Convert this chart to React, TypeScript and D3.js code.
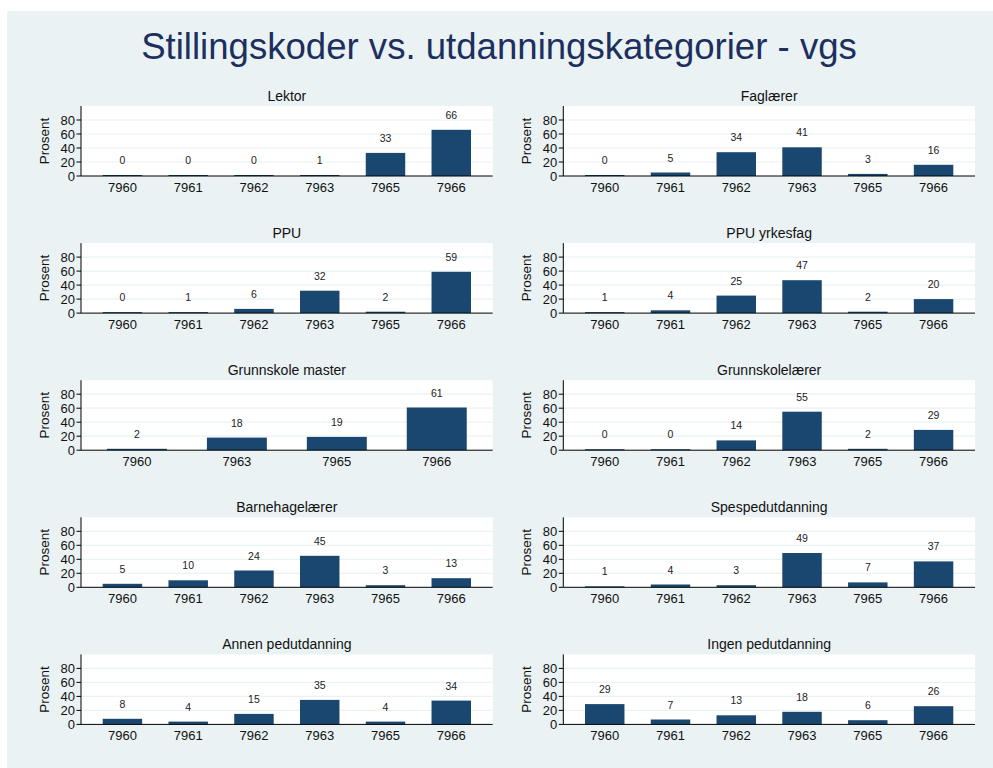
import React from 'react';
import * as d3 from 'd3';

const panelTitles = [
  'Lektor', 'Faglærer', 'PPU', 'PPU yrkesfag', 'Grunnskole master',
  'Grunnskolelærer', 'Barnehagelærer', 'Spespedutdanning', 'Annen pedutdanning', 'Ingen pedutdanning',
];

const codesAll = ['7960', '7961', '7962', '7963', '7965', '7966'];
const codesMaster = ['7960', '7963', '7965', '7966'];

const lektor = [0, 0, 0, 1, 33, 66];
const faglaerer = [0, 5, 34, 41, 3, 16];
const ppu = [0, 1, 6, 32, 2, 59];
const ppuYrkesfag = [1, 4, 25, 47, 2, 20];
const grunnskoleMaster = [2, 18, 19, 61];
const grunnskolelaerer = [0, 0, 14, 55, 2, 29];
const barnehagelaerer = [5, 10, 24, 45, 3, 13];
const spesped = [1, 4, 3, 49, 7, 37];
const annenPed = [8, 4, 15, 35, 4, 34];
const ingenPed = [29, 7, 13, 18, 6, 26];

const yTicks = [0, 20, 40, 60, 80];

const panels = [
  { codes: codesAll, values: lektor },
  { codes: codesAll, values: faglaerer },
  { codes: codesAll, values: ppu },
  { codes: codesAll, values: ppuYrkesfag },
  { codes: codesMaster, values: grunnskoleMaster },
  { codes: codesAll, values: grunnskolelaerer },
  { codes: codesAll, values: barnehagelaerer },
  { codes: codesAll, values: spesped },
  { codes: codesAll, values: annenPed },
  { codes: codesAll, values: ingenPed },
];

const W = 993;
const H = 768;
const BG = '#eaf2f3';
const BAR = '#1a476f';
const FONT = '"Liberation Sans", Arial, Helvetica, sans-serif';

const colLeft = [81, 563.3];
const plotW = 411.7;
const plotH = 70;
const rowTop = (i) => 106 + 137.1 * i;

const Panel = ({ title, codes, values, x0, y0 }) => {
  const x = d3.scaleBand()
    .domain(codes)
    .range([x0, x0 + plotW])
    .paddingInner(0.4)
    .paddingOuter(codes.length > 4 ? 0.33 : 0.26);
  const y = d3.scaleLinear().domain([0, 100]).range([y0 + plotH, y0]);
  const base = y(0);
  return (
    <g>
      <rect x={x0} y={y0} width={plotW} height={plotH} fill="#fff" />
      {yTicks.filter((t) => t > 0).map((t) => (
        <line key={t} x1={x0} x2={x0 + plotW} y1={y(t)} y2={y(t)} stroke={BG} strokeWidth={1.2} />
      ))}
      {codes.map((c, i) => {
        // zero values still show a hairline bar, as in the original
        const h = Math.max(base - y(values[i]), 1);
        return (
          <g key={c}>
            <rect x={x(c)} y={base - h} width={x.bandwidth()} height={h} fill={BAR} />
            <text x={x(c) + x.bandwidth() / 2} y={base - h - 11} textAnchor="middle" fontSize={10.5} fill="#222">
              {values[i]}
            </text>
            <text x={x(c) + x.bandwidth() / 2} y={base + 16} textAnchor="middle" fontSize={13} fill="#111">
              {c}
            </text>
          </g>
        );
      })}
      <line x1={x0} x2={x0} y1={y0} y2={base} stroke="#000" strokeWidth={1} />
      <line x1={x0} x2={x0 + plotW} y1={base} y2={base} stroke="#000" strokeWidth={1} />
      {yTicks.map((t) => (
        <g key={t}>
          <line x1={x0 - 4.5} x2={x0} y1={y(t)} y2={y(t)} stroke="#000" strokeWidth={1} />
          <text x={x0 - 6} y={y(t)} dy="0.36em" textAnchor="end" fontSize={13} fill="#111">{t}</text>
        </g>
      ))}
      <text
        transform={`translate(${x0 - 32},${y0 + plotH / 2}) rotate(-90)`}
        textAnchor="middle" fontSize={13.5} fill="#111"
      >Prosent</text>
      <text x={x0 + plotW / 2} y={y0 - 5.5} textAnchor="middle" fontSize={14} fill="#111">{title}</text>
    </g>
  );
};

export default function App() {
  return (
    <svg width={W} height={H} style={{ position: 'absolute', left: 0, top: 0 }} fontFamily={FONT}>
      <rect x={0} y={0} width={W} height={H} fill="#fff" />
      <rect x={7} y={11} width={W - 7} height={H - 11} fill={BG} />
      <text x={499} y={59} textAnchor="middle" fontSize={36.6} fill="#1c2f5e">
        Stillingskoder vs. utdanningskategorier - vgs
      </text>
      {panels.map((p, i) => (
        <Panel
          key={panelTitles[i]}
          title={panelTitles[i]}
          codes={p.codes}
          values={p.values}
          x0={colLeft[i % 2]}
          y0={rowTop(Math.floor(i / 2))}
        />
      ))}
    </svg>
  );
}
